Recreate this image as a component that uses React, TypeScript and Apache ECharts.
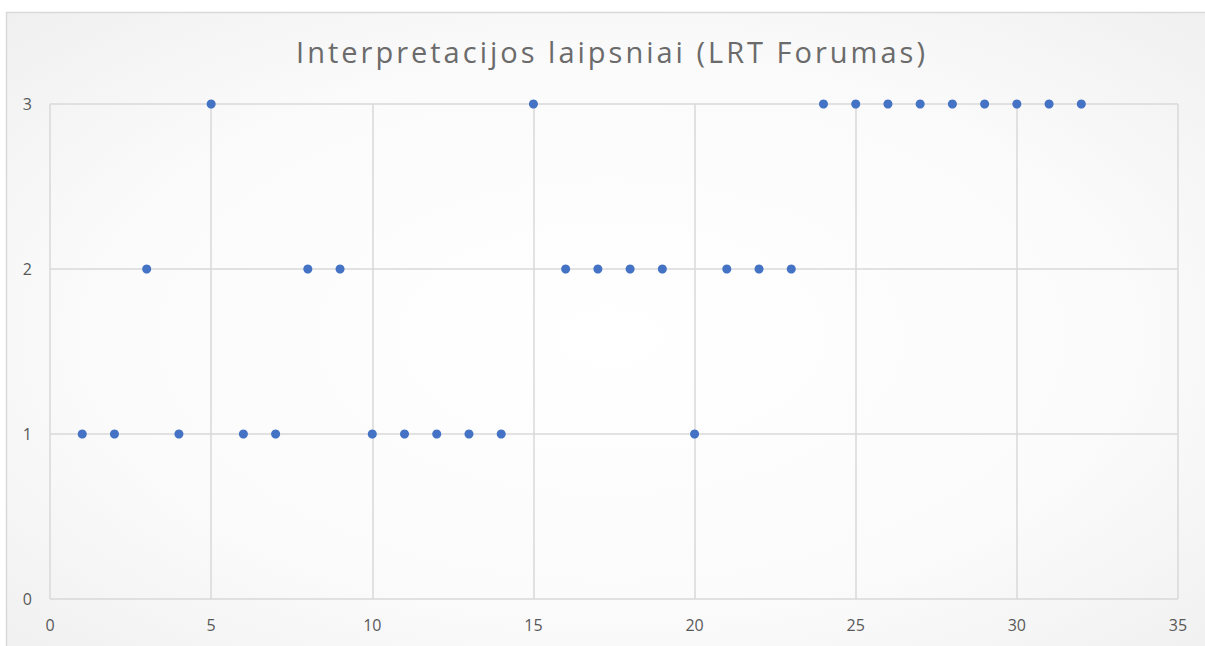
import React, { useEffect, useRef } from "react";
import * as echarts from "echarts";

const titleText = "Interpretacijos laipsniai (LRT Forumas)";
const xValues = [1, 2, 3, 4, 5, 6, 7, 8, 9, 10, 11, 12, 13, 14, 15, 16, 17, 18, 19, 20, 21, 22, 23, 24, 25, 26, 27, 28, 29, 30, 31, 32];
const yValues = [1, 1, 2, 1, 3, 1, 1, 2, 2, 1, 1, 1, 1, 1, 3, 2, 2, 2, 2, 1, 2, 2, 2, 3, 3, 3, 3, 3, 3, 3, 3, 3];
const xMin = 0, xMax = 35, xStep = 5;
const yMin = 0, yMax = 3, yStep = 1;

export default function App() {
  const ref = useRef<HTMLDivElement>(null);
  useEffect(() => {
    if (!ref.current) return;
    const chart = echarts.init(ref.current, undefined, { renderer: "svg" });
    const data = xValues.map((x, i) => [x, yValues[i]]);
    chart.setOption({
      animation: false,
      backgroundColor: "#ffffff",
      graphic: [
        {
          type: "rect",
          z: -10,
          silent: true,
          shape: { x: 6.5, y: 12.5, width: 1210, height: 650 },
          style: {
            fill: new echarts.graphic.RadialGradient(0.5, 0.5, 0.7, [
              { offset: 0, color: "#ffffff" },
              { offset: 0.6, color: "#fbfbfb" },
              { offset: 1, color: "#f0f0f0" },
            ]),
            stroke: "#d9d9d9",
            lineWidth: 1.5,
          },
        },
        {
          type: "text",
          x: 612,
          y: 37,
          silent: true,
          style: {
            text: titleText,
            align: "center",
            verticalAlign: "top",
            fontFamily: "Open Sans",
            fontWeight: 400,
            fontSize: 29,
            fill: "#6b6b6b",
          },
        },
      ],
      grid: { left: 50, right: 27, top: 104, bottom: 47 },
      xAxis: {
        type: "value",
        min: xMin,
        max: xMax,
        interval: xStep,
        axisLine: { show: false },
        axisTick: { show: false },
        axisLabel: { color: "#595959", fontSize: 16, fontFamily: "Open Sans", margin: 18 },
        splitLine: { show: true, lineStyle: { color: "#d9d9d9", width: 1.5 } },
      },
      yAxis: {
        type: "value",
        min: yMin,
        max: yMax,
        interval: yStep,
        axisLine: { show: false },
        axisTick: { show: false },
        axisLabel: { color: "#595959", fontSize: 16, fontFamily: "Open Sans", margin: 18 },
        splitLine: { show: true, lineStyle: { color: "#d9d9d9", width: 1.5 } },
      },
      series: [
        {
          type: "scatter",
          data,
          symbol: "circle",
          symbolSize: 9,
          itemStyle: { color: "#4472C4", opacity: 1 },
        },
      ],
    });
    return () => chart.dispose();
  }, []);
  return (
    <>
      <style>{`svg text[style*="29px"] { letter-spacing: 3px; }`}</style>
      <div
        ref={ref}
        style={{ position: "absolute", left: 0, top: 0, width: 1205, height: 646 }}
      />
    </>
  );
}
